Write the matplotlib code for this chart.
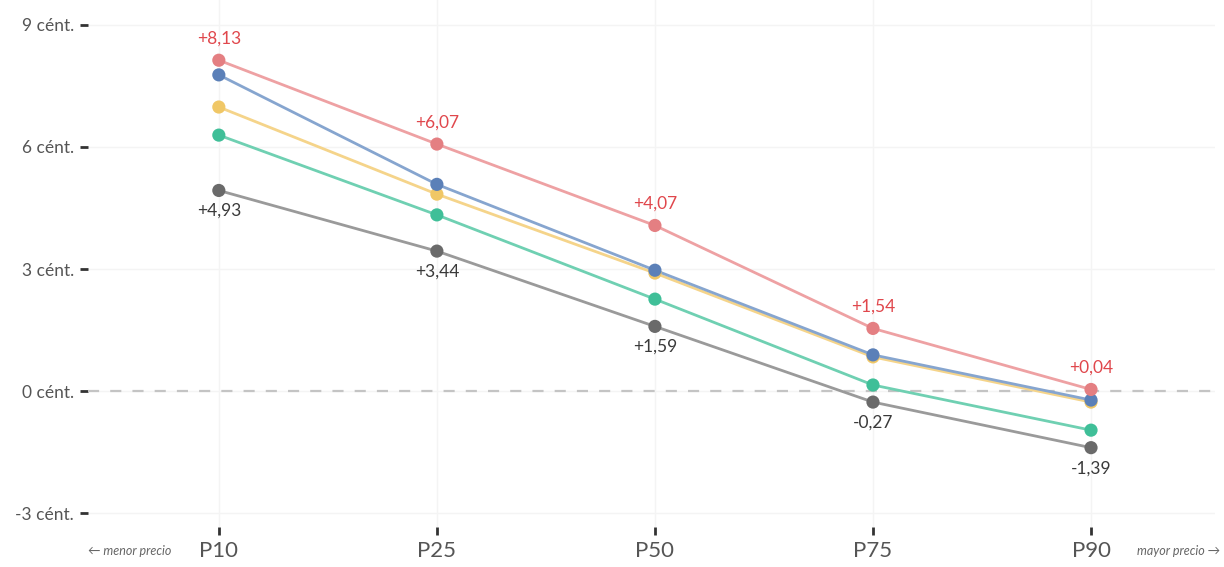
import matplotlib
matplotlib.use('Agg')
import matplotlib.pyplot as plt

plt.rcParams['font.family'] = ['Lato', 'DejaVu Sans']

percentiles = ['P10', 'P25', 'P50', 'P75', 'P90']
red = [8.13, 6.07, 4.07, 1.54, 0.04]
blue = [7.77, 5.08, 2.97, 0.89, -0.22]
yellow = [6.98, 4.84, 2.90, 0.84, -0.27]
green = [6.29, 4.33, 2.26, 0.15, -0.96]
gray = [4.93, 3.44, 1.59, -0.27, -1.39]
y_ticks = [-3, 0, 3, 6, 9]
y_labels = ['-3 cént.', '0 cént.', '3 cént.', '6 cént.', '9 cént.']

series = [
    (gray, '#9a9a9a', '#6a6a6a'),
    (green, '#6fd0b2', '#3fbf98'),
    (yellow, '#f5d48a', '#f0c766'),
    (blue, '#86a5cf', '#5b80b8'),
    (red, '#eea1a3', '#e47f82'),
]

fig = plt.figure(figsize=(12.24, 5.67), dpi=100)
ax = fig.add_axes([0.0719, 0.0705, 0.921, 0.9295])

x = list(range(len(percentiles)))
ax.axhline(0, color='#c4c4c4', lw=1.6, ls=(0, (5, 5)), zorder=1)

for values, line_c, mark_c in series:
    ax.plot(x, values, color=line_c, lw=2, zorder=2)
    ax.scatter(x, values, s=90, color=mark_c, zorder=3, edgecolors='none')

for xi, v in zip(x, red):
    ax.annotate(f'{v:+.2f}'.replace('.', ','), (xi, v), xytext=(0, 10),
                textcoords='offset points', ha='center', va='bottom',
                color='#e0474c', fontsize=12.5)
for xi, v in zip(x, gray):
    ax.annotate(f'{v:+.2f}'.replace('.', ','), (xi, v), xytext=(0, -9),
                textcoords='offset points', ha='center', va='top',
                color='#3a3a3a', fontsize=12.5)

ax.set_xlim(-0.6, 4.57)
ax.set_ylim(-3.34, 9.61)
ax.set_xticks(x)
ax.set_xticklabels(percentiles, fontsize=16, color='#555555')
ax.set_yticks(y_ticks)
ax.set_yticklabels(y_labels, fontsize=12.5, color='#555555')
ax.grid(True, color='#f4f4f4', lw=1)
ax.set_axisbelow(True)
for s in ax.spines.values():
    s.set_visible(False)
ax.tick_params(axis='y', length=6, width=2, color='#333333', pad=4)
ax.tick_params(axis='x', length=6, width=2, color='#333333', pad=4)

fig.text(0.072, 0.017, '← menor precio', fontsize=9, style='italic',
         color='#666666', ha='left', va='bottom')
fig.text(0.997, 0.017, 'mayor precio →', fontsize=9, style='italic',
         color='#666666', ha='right', va='bottom')

fig.savefig('out.png', dpi=100)
